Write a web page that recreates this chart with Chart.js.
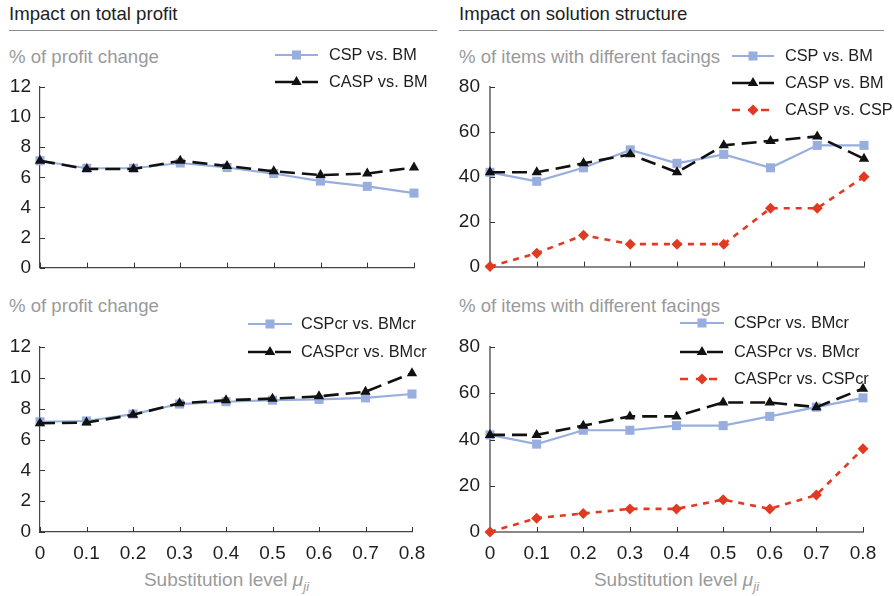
<!DOCTYPE html>
<html>
<head>
<meta charset="utf-8">
<script src="https://cdn.jsdelivr.net/npm/chart.js@4.4.1/dist/chart.umd.min.js"></script>
<style>
  body { margin:0; background:#fff; width:894px; height:596px; position:relative; overflow:hidden;
         font-family:"Liberation Sans", Arial, Helvetica, sans-serif; }
  .title { position:absolute; top:4px; font-size:18.6px; line-height:20px; color:#1e1e1e; white-space:nowrap; }
  .rule { position:absolute; top:30px; height:0; border-top:1px solid #8a8a8a; }
  .ytitle { position:absolute; font-size:18.6px; line-height:20px; color:#9a9a9a; white-space:nowrap; }
  .xtitle { position:absolute; top:569px; font-size:19px; line-height:22px; color:#9a9a9a; text-align:center; white-space:nowrap; }
  .xtitle i { font-style:italic; }
  .xtitle sub { font-size:13px; vertical-align:-5px; line-height:0; }
  canvas { position:absolute; }
</style>
</head>
<body>
<div class="title" style="left:9px">Impact on total profit</div>
<div class="rule" style="left:9px;width:428px"></div>
<div class="title" style="left:459px">Impact on solution structure</div>
<div class="rule" style="left:459px;width:425px"></div>

<div class="ytitle" style="left:9px;top:47px">% of profit change</div>
<div class="ytitle" style="left:459px;top:47px">% of items with different facings</div>
<div class="ytitle" style="left:9px;top:296px">% of profit change</div>
<div class="ytitle" style="left:459px;top:296px">% of items with different facings</div>

<canvas id="tl" width="447" height="252" style="left:0;top:36px"></canvas>
<canvas id="tr" width="447" height="252" style="left:447px;top:36px"></canvas>
<canvas id="bl" width="447" height="277" style="left:0;top:290px"></canvas>
<canvas id="br" width="447" height="277" style="left:447px;top:290px"></canvas>

<div class="xtitle" style="left:40px;width:373px">Substitution level <i>μ<sub>ji</sub></i></div>
<div class="xtitle" style="left:490px;width:373px">Substitution level <i>μ<sub>ji</sub></i></div>

<script>
// Substitution levels on the x axis
const levels = ['0', '0.1', '0.2', '0.3', '0.4', '0.5', '0.6', '0.7', '0.8'];

// Profit change (%) – base models
const profitCSP  = [7.1, 6.6, 6.6, 6.95, 6.65, 6.25, 5.75, 5.4, 4.95];
const profitCASP = [7.1, 6.55, 6.55, 7.1, 6.75, 6.4, 6.15, 6.25, 6.65];

// Items with different facings (%) – base models
const itemsCSP        = [42, 38, 44, 52, 46, 50, 44, 54, 54];
const itemsCASP       = [42, 42, 46, 50, 42, 54, 56, 58, 48];
const itemsCASPvsCSP  = [0, 6, 14, 10, 10, 10, 26, 26, 40];

// Profit change (%) – cr models
const profitCSPcr  = [7.15, 7.2, 7.65, 8.3, 8.45, 8.55, 8.6, 8.7, 8.95];
const profitCASPcr = [7.05, 7.1, 7.6, 8.35, 8.55, 8.65, 8.8, 9.1, 10.3];

// Items with different facings (%) – cr models
const itemsCSPcr          = [42, 38, 44, 44, 46, 46, 50, 54, 58];
const itemsCASPcr         = [42, 42, 46, 50, 50, 56, 56, 54, 62];
const itemsCASPcrvsCSPcr  = [0, 6, 8, 10, 10, 14, 10, 16, 36];

const profitTicks = { min: 0, max: 12, step: 2 };
const itemsTicks  = { min: 0, max: 80, step: 20 };

const BLUE = '#98aedf', BLACK = '#111111', RED = '#e23a22';
const FONT = '"Liberation Sans", Arial, Helvetica, sans-serif';

const seriesStyle = {
  blue:  { borderColor: BLUE,  backgroundColor: BLUE,  borderWidth: 2.2, borderDash: [],      pointStyle: 'rect',     pointRadius: 6.4, order: 3 },
  black: { borderColor: BLACK, backgroundColor: BLACK, borderWidth: 2.6, borderDash: [15, 7], pointStyle: 'triangle', pointRadius: 6,   order: 2 },
  red:   { borderColor: RED,   backgroundColor: RED,   borderWidth: 2.6, borderDash: [6, 6],  pointStyle: 'rectRot',  pointRadius: 5.5, order: 1 }
};

function makeDataset(label, data, kind) {
  const s = seriesStyle[kind];
  return {
    label, data,
    borderColor: s.borderColor, backgroundColor: s.backgroundColor,
    borderWidth: s.borderWidth, borderDash: s.borderDash,
    pointStyle: s.pointStyle, pointRadius: s.pointRadius, pointBorderWidth: 0,
    pointBackgroundColor: s.backgroundColor, pointHoverRadius: s.pointRadius,
    tension: 0, fill: false, clip: false, order: s.order
  };
}

// Marker shapes for the legend keys
function drawMarker(ctx, style, x, y, r) {
  ctx.beginPath();
  if (style === 'rect') {
    const h = Math.SQRT1_2 * r;
    ctx.rect(x - h, y - h, 2 * h, 2 * h);
  } else if (style === 'triangle') {
    const rad = -Math.PI / 2;
    for (let i = 0; i < 3; i++) {
      const a = rad + i * 2 * Math.PI / 3;
      const px = x + Math.cos(a) * r, py = y + Math.sin(a) * r;
      i ? ctx.lineTo(px, py) : ctx.moveTo(px, py);
    }
    ctx.closePath();
  } else {
    ctx.moveTo(x - r, y); ctx.lineTo(x, y - r); ctx.lineTo(x + r, y); ctx.lineTo(x, y + r);
    ctx.closePath();
  }
  ctx.fill();
}

// Legend: a line key with its marker in the middle, label to the right
const keyLegend = {
  id: 'keyLegend',
  afterDraw(chart, args, opts) {
    const ctx = chart.ctx;
    ctx.save();
    ctx.font = '16.3px ' + FONT;
    ctx.textBaseline = 'middle';
    ctx.textAlign = 'left';
    chart.data.datasets.forEach((ds, i) => {
      const y = opts.rows[i];
      ctx.strokeStyle = ds.borderColor;
      ctx.lineWidth = ds.borderWidth;
      ctx.setLineDash(ds.borderDash.length ? [20, 7, 16, 7] : []);
      if (ds.borderDash.length && ds.borderDash[0] < 10) ctx.setLineDash([8, 8, 5, 8]);
      ctx.beginPath();
      ctx.moveTo(opts.x0, y); ctx.lineTo(opts.x1, y);
      ctx.stroke();
      ctx.setLineDash([]);
      ctx.fillStyle = ds.backgroundColor;
      drawMarker(ctx, ds.pointStyle, (opts.x0 + opts.x1) / 2, y, ds.pointRadius);
      ctx.fillStyle = '#1e1e1e';
      ctx.fillText(ds.label, opts.textX, y + 1);
    });
    ctx.restore();
  }
};

// Short tick marks pointing into the plot area
const innerTicks = {
  id: 'innerTicks',
  beforeDatasetsDraw(chart) {
    const ctx = chart.ctx, x = chart.scales.x, y = chart.scales.y;
    const area = chart.chartArea;
    ctx.save();
    ctx.strokeStyle = '#333';
    ctx.lineWidth = 1;
    ctx.beginPath();
    y.ticks.forEach(t => {
      const py = Math.round(y.getPixelForValue(t.value)) + 0.5;
      ctx.moveTo(area.left, py); ctx.lineTo(area.left + 5, py);
    });
    x.ticks.forEach((t, i) => {
      const px = Math.round(x.getPixelForTick(i)) + 0.5;
      ctx.moveTo(px, area.bottom); ctx.lineTo(px, area.bottom - 5);
    });
    ctx.stroke();
    ctx.restore();
  }
};

function makeChart(id, datasets, cfg) {
  new Chart(document.getElementById(id), {
    type: 'line',
    data: { labels: levels, datasets },
    plugins: [innerTicks, keyLegend],
    options: {
      responsive: false,
      animation: false,
      events: [],
      layout: { padding: { top: cfg.padTop, right: cfg.padRight, left: 0, bottom: 0 } },
      plugins: {
        legend: { display: false },
        tooltip: { enabled: false },
        keyLegend: cfg.legend
      },
      scales: {
        x: {
          type: 'category',
          offset: false,
          grid: { display: false, drawTicks: false },
          border: { display: true, color: cfg.axisColor, width: cfg.axisWidth },
          ticks: {
            display: cfg.xLabels, autoSkip: false, maxRotation: 0, padding: 10,
            color: '#1e1e1e', font: { family: FONT, size: 19 }
          },
          afterFit: s => { s.height = cfg.xHeight; }
        },
        y: {
          min: cfg.ticks.min, max: cfg.ticks.max,
          grid: { display: false, drawTicks: false },
          border: { display: true, color: cfg.axisColor, width: cfg.axisWidth },
          ticks: {
            stepSize: cfg.ticks.step, padding: cfg.yPad,
            color: '#1e1e1e', font: { family: FONT, size: 19 }
          },
          afterFit: s => { s.width = cfg.yWidth; }
        }
      }
    }
  });
}

makeChart('tl', [
  makeDataset('CSP vs. BM', profitCSP, 'blue'),
  makeDataset('CASP vs. BM', profitCASP, 'black')
], {
  padTop: 51, padRight: 33, xHeight: 14, yWidth: 40, yPad: 9, xLabels: false,
  ticks: profitTicks, axisColor: '#444', axisWidth: 1.2,
  legend: { x0: 275, x1: 318, textX: 329, rows: [19, 46] }
});

makeChart('tr', [
  makeDataset('CSP vs. BM', itemsCSP, 'blue'),
  makeDataset('CASP vs. BM', itemsCASP, 'black'),
  makeDataset('CASP vs. CSP', itemsCASPvsCSP, 'red')
], {
  padTop: 51, padRight: 30, xHeight: 14, yWidth: 43, yPad: 10, xLabels: false,
  ticks: itemsTicks, axisColor: '#888', axisWidth: 2,
  legend: { x0: 285, x1: 327, textX: 338, rows: [20, 47, 74] }
});

makeChart('bl', [
  makeDataset('CSPcr vs. BMcr', profitCSPcr, 'blue'),
  makeDataset('CASPcr vs. BMcr', profitCASPcr, 'black')
], {
  padTop: 57, padRight: 35, xHeight: 35, yWidth: 40, yPad: 9, xLabels: true,
  ticks: profitTicks, axisColor: '#444', axisWidth: 1.2,
  legend: { x0: 248, x1: 292, textX: 301, rows: [34, 62] }
});

makeChart('br', [
  makeDataset('CSPcr vs. BMcr', itemsCSPcr, 'blue'),
  makeDataset('CASPcr vs. BMcr', itemsCASPcr, 'black'),
  makeDataset('CASPcr vs. CSPcr', itemsCASPcrvsCSPcr, 'red')
], {
  padTop: 57, padRight: 31, xHeight: 35, yWidth: 43, yPad: 10, xLabels: true,
  ticks: itemsTicks, axisColor: '#888', axisWidth: 2,
  legend: { x0: 233, x1: 277, textX: 287, rows: [33, 62, 89] }
});
</script>
</body>
</html>
